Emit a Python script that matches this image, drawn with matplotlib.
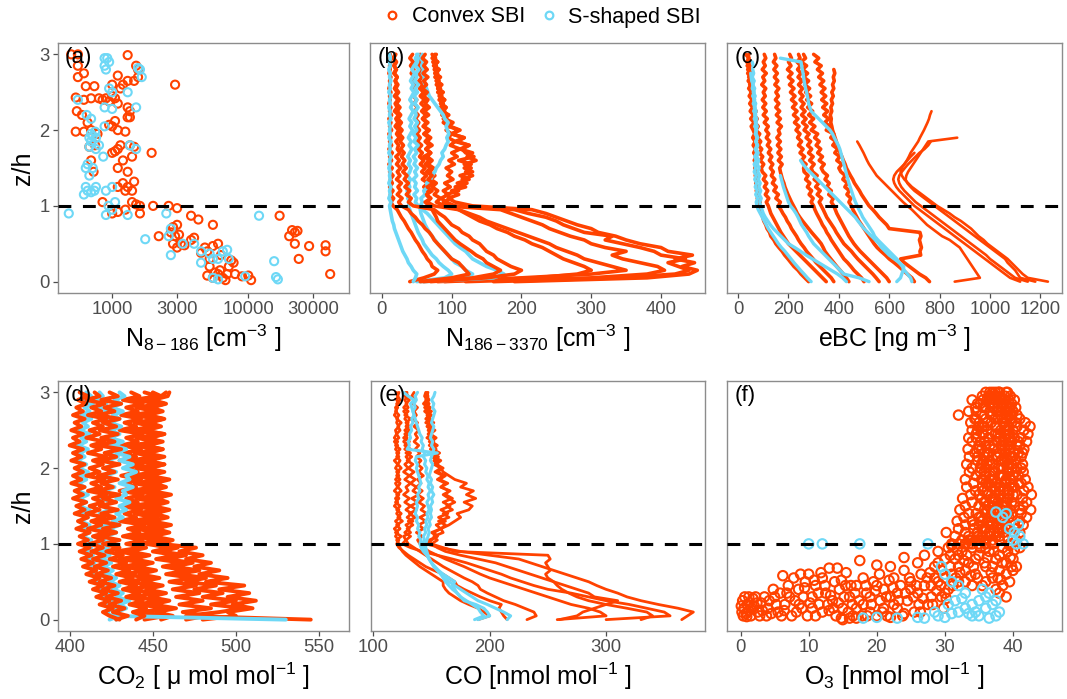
import matplotlib
matplotlib.use('Agg')
import matplotlib.pyplot as plt
from matplotlib.lines import Line2D

plt.rcParams['font.family'] = ['Liberation Sans', 'DejaVu Sans']
plt.rcParams['mathtext.fontset'] = 'custom'
plt.rcParams['mathtext.rm'] = 'Liberation Sans'
plt.rcParams['mathtext.it'] = 'Liberation Sans:italic'
plt.rcParams['mathtext.bf'] = 'Liberation Sans:bold'

RED = '#FF4200'
CYAN = '#6ED8F6'
SERIES = ['Convex SBI', 'S-shaped SBI']

# ---------------- shared height grid (z/h) for profiles ----------------
Z05 = [0.00, 0.05, 0.10, 0.15, 0.20, 0.25, 0.30, 0.35, 0.40, 0.45,
       0.50, 0.55, 0.60, 0.65, 0.70, 0.75, 0.80, 0.85, 0.90, 0.95,
       1.00, 1.05, 1.10, 1.15, 1.20, 1.25, 1.30, 1.35, 1.40, 1.45,
       1.50, 1.55, 1.60, 1.65, 1.70, 1.75, 1.80, 1.85, 1.90, 1.95,
       2.00, 2.05, 2.10, 2.15, 2.20, 2.25, 2.30, 2.35, 2.40, 2.45,
       2.50, 2.55, 2.60, 2.65, 2.70, 2.75, 2.80, 2.85, 2.90, 2.95, 3.00]

# ---------------- (a) N8-186 scatter ----------------
a_conv = [(500, 3.0), (560, 3.0), (1300, 2.99), (560, 2.85), (620, 2.75), (560, 2.7), (1100, 2.72),
          (1200, 2.6), (1300, 2.65), (1450, 2.65), (1550, 2.7), (1550, 2.8), (1500, 2.85), (2900, 2.6),
          (640, 2.58), (740, 2.58), (1000, 2.6), (1150, 2.55), (540, 2.43), (620, 2.4), (700, 2.42),
          (800, 2.42), (850, 2.4), (900, 2.42), (950, 2.38), (1000, 2.45), (1050, 2.42), (1100, 2.35),
          (1300, 2.3), (1350, 2.25), (550, 2.25), (600, 2.2), (1300, 2.17), (1350, 2.17), (1050, 2.12),
          (950, 2.07), (1000, 2.05), (1100, 2.0), (1250, 1.98), (540, 1.98), (620, 1.98), (700, 2.0),
          (780, 1.95), (660, 2.1), (680, 1.78), (750, 1.8), (1000, 1.7), (1050, 1.72), (1100, 1.75),
          (1150, 1.8), (1350, 1.8), (1450, 1.78), (1950, 1.7), (1200, 1.6), (1400, 1.65), (700, 1.6),
          (730, 1.45), (1100, 1.5), (1300, 1.45), (1200, 1.3), (1250, 1.2), (1300, 1.25), (1400, 1.2),
          (1450, 1.32), (1100, 1.25), (850, 1.05), (1400, 1.05), (1500, 1.02), (1600, 1.0), (2000, 1.0),
          (2600, 1.0), (3000, 0.97), (1000, 0.9), (1100, 0.92), (1250, 0.95), (1600, 0.9), (3800, 0.87),
          (4300, 0.82), (5500, 0.75), (2800, 0.72), (3000, 0.75), (2700, 0.65), (2900, 0.6), (3100, 0.62),
          (2200, 0.6), (2800, 0.5), (3000, 0.45), (3200, 0.5), (3400, 0.48), (3800, 0.55), (4000, 0.58),
          (4800, 0.45), (5000, 0.4), (6000, 0.5), (5500, 0.47), (4500, 0.38), (5200, 0.2), (5000, 0.08),
          (5500, 0.05), (6000, 0.1), (6500, 0.05), (7000, 0.1), (7200, 0.2), (7500, 0.28), (7800, 0.25),
          (6800, 0.02), (8000, 0.1), (9000, 0.07), (10000, 0.08), (10500, 0.02), (17000, 0.87),
          (21000, 0.68), (22000, 0.65), (23000, 0.67), (20000, 0.6), (22000, 0.5), (23500, 0.3),
          (28000, 0.47), (37000, 0.48), (37000, 0.4), (40000, 0.1), (5700, 0.12), (6200, 0.15),
          (5200, 0.3), (6300, 0.35)]
a_sshp = [(880, 2.95), (920, 2.95), (950, 2.9), (880, 2.85), (900, 2.8), (1550, 2.82), (1600, 2.8),
          (1650, 2.7), (950, 2.55), (1000, 2.5), (1300, 2.5), (1500, 2.3), (560, 2.4), (880, 2.3),
          (1000, 2.28), (650, 2.2), (700, 2.15), (700, 1.95), (720, 1.92), (750, 1.98), (680, 1.9),
          (760, 1.9), (700, 1.85), (800, 1.8), (680, 1.78), (760, 1.75), (880, 2.05), (1350, 1.8),
          (1500, 1.75), (860, 1.65), (660, 1.55), (640, 1.5), (720, 1.5), (680, 1.4), (640, 1.25),
          (660, 1.2), (700, 1.18), (740, 1.2), (760, 1.25), (620, 1.15), (900, 1.2), (1000, 1.25),
          (1050, 1.05), (940, 1.0), (1000, 0.95), (900, 0.88), (1300, 0.88), (480, 0.9), (1750, 0.56),
          (2500, 0.9), (12000, 0.87), (2700, 0.7), (2600, 0.6), (3300, 0.5), (4000, 0.5), (4500, 0.4),
          (5200, 0.37), (5500, 0.3), (6000, 0.3), (6500, 0.4), (7000, 0.42), (7200, 0.3), (4500, 0.25),
          (5500, 0.05), (6000, 0.03), (9500, 0.07), (15500, 0.27), (16000, 0.06), (16500, 0.03),
          (2700, 0.35)]

# ---------------- (b) N186-3370 profiles (values on Z05) ----------------
b_c1 = [190, 380, 440, 452, 430, 448, 420, 445, 410, 400, 370, 350, 335, 310, 300, 280, 265, 250, 235, 215,
        130, 105, 95, 110, 100, 120, 108, 125, 112, 130, 118, 128, 110, 132, 120, 115, 125, 105, 118, 100,
        112, 98, 95, 88, 96, 85, 92, 84, 90, 82, 88, 80, 86, 78, 84, 76, 82, 75, 80, 74, 78]
b_c2 = [160, 340, 420, 440, 425, 410, 435, 400, 390, 370, 345, 320, 330, 290, 275, 260, 250, 235, 210, 190,
        105, 92, 85, 95, 88, 98, 90, 102, 94, 100, 92, 104, 96, 108, 100, 112, 98, 105, 95, 100,
        92, 96, 88, 93, 86, 90, 84, 88, 82, 86, 80, 84, 78, 82, 76, 80, 75, 78, 73, 77, 72]
b_c3 = [120, 300, 380, 405, 395, 370, 345, 330, 350, 320, 300, 290, 270, 255, 240, 230, 215, 200, 185, 170,
        90, 78, 84, 75, 80, 72, 78, 70, 76, 68, 74, 66, 72, 65, 70, 63, 68, 62, 67, 60,
        66, 59, 64, 58, 63, 57, 62, 56, 61, 55, 60, 54, 59, 53, 58, 52, 57, 51, 56, 50, 55]
b_c4 = [90, 220, 280, 300, 290, 275, 260, 250, 240, 230, 215, 205, 190, 180, 165, 155, 140, 130, 120, 110,
        75, 65, 70, 62, 68, 60, 66, 58, 64, 57, 62, 55, 60, 54, 58, 52, 57, 51, 55, 50,
        54, 49, 53, 48, 52, 47, 51, 46, 50, 45, 49, 44, 48, 43, 47, 42, 46, 41, 45, 40, 44]
b_c5 = [70, 150, 190, 200, 185, 175, 165, 160, 150, 145, 140, 130, 125, 115, 110, 100, 95, 90, 82, 75,
        45, 38, 42, 35, 40, 33, 38, 32, 36, 30, 35, 29, 33, 28, 32, 27, 31, 26, 30, 25,
        29, 24, 28, 23, 27, 22, 26, 21, 25, 20, 24, 20, 23, 19, 22, 18, 21, 17, 20, 16, 19]
b_c6 = [40, 60, 75, 80, 72, 70, 65, 62, 58, 55, 52, 48, 45, 42, 38, 35, 32, 28, 25, 22,
        16, 13, 17, 12, 16, 11, 15, 12, 16, 11, 15, 10, 14, 11, 15, 10, 14, 11, 13, 10,
        14, 11, 13, 10, 14, 11, 13, 10, 12, 11, 13, 10, 12, 11, 13, 10, 12, 11, 13, 10, 12]
b_c7 = [55, 100, 125, 120, 115, 110, 100, 95, 90, 85, 80, 75, 72, 68, 62, 58, 52, 48, 42, 38,
        28, 24, 29, 22, 27, 23, 28, 21, 26, 22, 27, 21, 25, 20, 26, 22, 24, 20, 25, 21,
        24, 19, 23, 20, 24, 18, 22, 19, 23, 18, 22, 18, 21, 19, 22, 17, 20, 18, 21, 17, 20]
b_c8 = [80, 200, 300, 350, 330, 310, 290, 280, 265, 250, 240, 225, 210, 195, 180, 165, 150, 140, 125, 110,
        95, 88, 100, 92, 110, 105, 122, 115, 130, 120, 128, 118, 135, 122, 130, 112, 125, 108, 118, 100,
        110, 96, 102, 90, 95, 88, 92, 85, 90, 83, 87, 80, 85, 78, 83, 76, 82, 74, 80, 72, 76]
b_c9 = [60, 130, 160, 170, 160, 150, 145, 135, 128, 120, 112, 105, 100, 95, 90, 85, 80, 78, 75, 72,
        68, 62, 70, 64, 72, 65, 74, 66, 72, 64, 70, 62, 68, 60, 70, 63, 72, 65, 70, 62,
        68, 60, 66, 59, 67, 61, 68, 62, 66, 60, 65, 58, 64, 60, 66, 59, 65, 60, 64, 58, 62]
b_s1 = [60, 160, 175, 165, 150, 140, 130, 125, 120, 112, 105, 100, 95, 90, 85, 80, 75, 70, 65, 58,
        52, 48, 50, 46, 51, 47, 49, 45, 50, 47, 51, 46, 49, 45, 50, 47, 52, 46, 49, 45,
        50, 47, 51, 46, 49, 48, 52, 47, 50, 46, 51, 48, 52, 47, 50, 49, 53, 48, 51, 52, 50]
b_s2 = [45, 48, 50, 45, 42, 38, 36, 33, 30, 28, 26, 24, 22, 20, 18, 17, 15, 14, 13, 12,
        11, 13, 10, 12, 11, 13, 10, 12, 11, 12, 10, 12, 11, 13, 10, 12, 11, 13, 10, 12,
        11, 12, 10, 13, 11, 12, 10, 12, 11, 13, 10, 12, 11, 13, 11, 12, 10, 12, 11, 12, 11]
b_s3 = [55, 110, 130, 120, 115, 105, 100, 95, 90, 85, 80, 76, 72, 68, 65, 62, 60, 58, 56, 55,
        55, 58, 56, 62, 60, 66, 64, 70, 72, 76, 78, 82, 84, 88, 86, 90, 92, 95, 93, 96,
        94, 92, 95, 90, 88, 84, 80, 76, 72, 68, 66, 64, 62, 60, 61, 58, 60, 57, 59, 56, 58]
b_s4 = [50, 90, 100, 95, 88, 82, 78, 72, 68, 64, 60, 58, 55, 52, 50, 48, 46, 44, 42, 40,
        38, 40, 37, 39, 36, 40, 38, 41, 37, 40, 42, 38, 41, 37, 40, 43, 39, 42, 38, 41,
        44, 40, 43, 39, 42, 45, 41, 44, 40, 43, 46, 42, 45, 41, 44, 47, 43, 46, 50, 48, 52]

# ---------------- (c) eBC profiles (values on Z05) ----------------
c_c1 = [1230, 1150, 1130, 1115, 1100, 1085, 1070, 1050, 1030, 1010, 990, 975, 955, 940, 925, 905, 885, 860,
        840, 815, 790, 770, 750, 730, 710, 690, 675, 660, 650, 645, 650, 660, 670, 678, 685, 695, 705, 715,
        722, 730, 738, 745, 752, 758, 762, 768]
c_c2 = [1180, 1120, 1110, 1100, 1085, 1070, 1060, 1040, 1020, 1000, 980, 960, 940, 920, 900, 880, 860, 840,
        820, 800, 780, 760, 740, 720, 700, 685, 672, 665, 668, 675, 685, 695, 705, 715, 725, 735, 745, 755, 870]
c_c3 = [1150, 1100, 1080, 1060, 1040, 1020, 1000, 985, 965, 945, 925, 905, 885, 865, 845, 825, 805, 785,
        765, 745, 725, 705, 690, 675, 660, 648, 640, 636, 640, 650, 662, 675, 690, 705, 720, 740, 755, 765]
c_c4 = [1120, 1080, 1060, 1040, 1020, 1000, 980, 960, 940, 920, 900, 880, 860, 840, 820, 800, 780, 760,
        740, 720, 700, 685, 670, 655, 640, 628, 620, 616, 620, 630, 645, 660, 672, 685, 700]
c_c5 = [860, 960, 950, 940, 930, 920, 910, 900, 890, 880, 860, 840, 810, 790, 770, 750, 735, 720,
        705, 690, 672, 655, 640, 625, 610, 595, 580, 565, 550, 540, 530, 520, 512, 505, 498, 490, 482, 473]
c_r1 = [280, 265, 250, 238, 222, 210, 198, 185, 175, 162, 150, 142, 130, 125, 115, 110, 102, 98, 92, 86,
        80, 88, 76, 84, 72, 80, 70, 78, 68, 75, 66, 74, 64, 72, 62, 70, 60, 68, 58, 66,
        60, 52, 64, 50, 62, 48, 58, 46, 56, 44, 54, 42, 52, 40, 50, 38, 48, 36, 46, 40, 42]
c_r2 = [380, 370, 355, 340, 325, 310, 298, 285, 272, 262, 250, 240, 232, 222, 212, 205, 195, 188, 178, 170,
        160, 168, 150, 160, 142, 152, 136, 146, 132, 140, 128, 138, 124, 134, 120, 130, 116, 126, 112, 122,
        110, 120, 104, 116, 100, 112, 98, 110, 96, 108, 100, 110, 94, 106, 98, 112, 96, 108, 100, 110, 104]
c_r3 = [500, 490, 475, 460, 448, 435, 420, 410, 400, 390, 380, 370, 362, 352, 345, 335, 328, 320, 312, 305,
        300, 290, 298, 282, 292, 275, 285, 268, 278, 262, 260, 270, 252, 264, 246, 258, 240, 252, 236, 246,
        230, 242, 224, 238, 220, 234, 216, 230, 212, 226, 208, 222, 204, 218, 200, 214, 196, 210, 200, 212, 205]
c_r4 = [600, 590, 575, 560, 545, 530, 515, 500, 485, 472, 460, 450, 440, 432, 424, 416, 408, 400, 392, 386,
        380, 370, 378, 360, 370, 352, 362, 345, 355, 338, 330, 342, 322, 335, 316, 328, 310, 322, 304, 316,
        290, 305, 284, 300, 280, 296, 276, 292, 272, 288, 268, 284, 264, 280, 260, 276, 256, 272, 250, 268, 260]
c_r5 = [700, 690, 672, 655, 638, 620, 600, 585, 568, 552, 540, 530, 520, 510, 500, 490, 480, 472, 464, 456,
        450, 440, 448, 432, 442, 424, 434, 416, 426, 408, 400, 412, 392, 404, 384, 396, 376, 388, 368, 380,
        350, 365, 344, 360, 340, 356, 336, 352, 332, 348, 330, 345, 325, 340, 320, 335, 315, 330, 305, 320, 300]
c_r6 = [760, 745, 720, 700, 680, 660, 645, 725, 722, 728, 724, 720, 726, 722, 600, 590, 575, 560, 548, 535,
        520, 510, 500, 490, 482, 472, 462, 455, 446, 438, 430, 425, 418, 412, 405, 400, 394, 390, 385, 380,
        375, 372, 368, 370, 366, 372, 368, 375, 370, 378, 372, 380, 375, 382, 378, 384, 380]
c_r7 = [440, 430, 418, 405, 392, 380, 368, 356, 345, 338, 330, 318, 305, 292, 280, 268, 256, 245, 235, 228,
        220, 212, 205, 198, 192, 186, 182, 176, 172, 168, 165, 175, 160, 172, 158, 170, 156, 168, 154, 166,
        160, 172, 155, 168, 152, 165, 150, 162, 148, 160, 150, 162, 146, 158, 144, 156, 142, 154, 140, 150, 145]
c_r8 = [560, 548, 535, 520, 505, 490, 475, 462, 450, 435, 420, 410, 400, 390, 382, 372, 362, 352, 345, 338,
        330, 322, 332, 314, 326, 308, 320, 302, 314, 296, 290, 302, 284, 298, 280, 292, 276, 288, 270, 282,
        262, 274, 256, 270, 252, 266, 250, 262, 246, 258, 244, 256, 240, 254, 238, 250, 236, 248, 234, 246, 240]
c_r9 = [350, 335, 320, 305, 290, 275, 260, 245, 230, 215, 200, 190, 180, 170, 162, 154, 146, 138, 130, 125,
        120, 112, 122, 108, 118, 104, 114, 100, 110, 96, 92, 102, 88, 98, 84, 94, 80, 90, 76, 86,
        70, 80, 66, 76, 62, 72, 58, 68, 54, 64, 50, 60, 46, 56, 42, 52, 38, 48, 34, 44, 30]
c_s1 = [290, 275, 262, 248, 235, 222, 210, 198, 186, 172, 160, 150, 140, 130, 120, 112, 104, 96, 88, 80,
        75, 72, 78, 70, 76, 68, 74, 66, 72, 64, 70, 64, 72, 66, 74, 68, 76, 70, 78, 72,
        70, 76, 68, 74, 66, 72, 64, 70, 62, 68, 60, 66, 58, 64, 56, 62, 58, 60, 56]
c_s2 = [690, 685, 672, 660, 652, 640, 630, 615, 600, 585, 570, 555, 542, 535, 525, 515, 505, 495, 488, 480,
        473, 466, 460, 455, 450, 445, 440, 436, 432, 428, 424, 420, 416, 412, 408, 404, 398, 390, 382, 375,
        365, 350, 335, 320, 305, 290, 285, 280, 278, 275, 272, 268, 265, 262, 260, 258, 255, 252, 250, 168]
c_s3 = [630, 645, 650, 655, 658, 640, 620, 600, 585, 570, 560, 545, 530, 515, 500, 488, 476, 465, 450, 435,
        420, 405, 390, 375, 360, 345, 330, 315, 300, 285, 270, 258, 248]
c_s4 = [430, 415, 395, 370, 345, 320, 295, 270, 248, 225, 200, 185, 170, 155, 140, 128, 118, 108, 100, 95,
        90, 86, 92, 84, 90, 82, 88, 80, 86, 78, 84, 76, 82, 74, 80, 72, 78, 70, 76, 68,
        74, 66, 72, 64, 70, 62, 68, 60, 66, 58, 64, 56, 60, 54, 52, 50]
c_s5 = [520, 480, 420, 405, 390, 375, 360, 345, 330, 315, 300, 290, 280, 272, 262, 252, 245, 238, 230, 220,
        208, 200, 195, 190, 185, 180, 176, 172, 168]

# ---------------- (d) CO2 profiles (values on Z05) ----------------
d_r1 = [430, 424, 420, 426, 418, 424, 416, 422, 414, 420, 412, 418, 410, 416, 408, 414, 407, 413, 406, 412,
        405, 411, 406, 412, 404, 410, 405, 411, 403, 409, 404, 410, 402, 408, 403, 409, 401, 407, 402, 408,
        403, 409, 401, 407, 402, 408, 400, 406, 402, 408, 401, 407, 403, 409, 402, 408, 404, 410, 405, 411, 406]
d_r2 = [440, 445, 438, 446, 436, 444, 434, 442, 432, 440, 430, 438, 428, 436, 426, 434, 424, 432, 422, 430,
        420, 430, 418, 428, 420, 430, 417, 427, 419, 429, 418, 428, 420, 430, 416, 426, 419, 429, 417, 427,
        420, 430, 418, 428, 421, 431, 417, 427, 419, 429, 418, 428, 420, 430, 417, 427, 421, 431, 419, 429, 424]
d_r3 = [455, 462, 452, 464, 450, 460, 448, 458, 446, 456, 444, 454, 442, 452, 440, 450, 438, 448, 436, 446,
        434, 444, 432, 442, 435, 445, 430, 440, 433, 443, 431, 441, 434, 444, 430, 440, 433, 443, 431, 441,
        434, 444, 430, 440, 433, 443, 431, 441, 434, 444, 430, 440, 433, 443, 431, 441, 434, 444, 432, 442, 437]
d_r4 = [470, 482, 468, 485, 466, 480, 464, 478, 462, 476, 460, 474, 458, 470, 456, 468, 452, 464, 450, 460,
        446, 456, 444, 454, 447, 457, 443, 453, 446, 456, 444, 454, 447, 457, 443, 453, 446, 456, 444, 454,
        447, 457, 443, 453, 446, 456, 444, 454, 447, 457, 443, 453, 446, 456, 444, 454, 447, 457, 445, 455, 450]
d_r5 = [480, 500, 495, 510, 498, 512, 495, 508, 490, 505, 482, 495, 478, 490, 475, 485, 470, 480, 466, 476,
        455, 462, 450, 460, 452, 461, 449, 459, 451, 460, 450, 459, 452, 461, 449, 458, 451, 460, 448, 457,
        446, 455, 448, 457, 445, 454, 447, 456, 444, 453, 446, 455, 448, 457, 447, 456, 449, 458, 450, 459, 460]
d_r6 = [445, 458, 442, 460, 440, 455, 438, 452, 436, 450, 435, 448, 433, 446, 432, 445, 430, 444, 428, 442,
        440, 455, 437, 452, 440, 456, 436, 451, 439, 454, 437, 452, 440, 455, 436, 451, 439, 454, 437, 452,
        440, 455, 436, 451, 439, 454, 437, 452, 440, 455, 436, 451, 439, 454, 437, 452, 440, 455, 438, 453, 445]
d_r7 = [428, 435, 426, 433, 424, 431, 422, 429, 420, 427, 418, 425, 416, 423, 415, 422, 414, 421, 413, 420,
        412, 420, 414, 422, 411, 419, 413, 421, 410, 418, 412, 420, 414, 422, 411, 419, 413, 421, 410, 418,
        412, 420, 414, 422, 411, 419, 413, 421, 410, 418, 412, 420, 414, 422, 411, 419, 413, 421, 410, 418, 415]
d_r8 = [545, 470, 490, 505, 485, 500, 480, 492, 475, 488, 470, 482, 465, 478, 462, 474, 458, 470, 455, 465,
        450, 458, 446, 455, 448, 457, 444, 453, 447, 456, 445, 454, 448, 457, 444, 453, 447, 456, 445, 454,
        448, 457, 444, 453, 447, 456, 445, 454, 448, 457, 444, 453, 447, 456, 445, 454, 448, 457, 446, 455, 458]
d_s1 = [530, 425, 422, 426, 420, 424, 418, 422, 416, 420, 414, 418, 412, 416, 411, 415, 410, 414, 409, 413,
        408, 413, 407, 412, 408, 412, 406, 411, 407, 412, 405, 410, 406, 411, 404, 409, 405, 410, 406, 411,
        405, 410, 404, 409, 406, 411, 405, 410, 407, 412, 406, 411, 408, 413, 407, 412, 409, 414, 408, 413, 410]
d_s2 = [428, 432, 426, 430, 424, 428, 422, 426, 420, 425, 419, 424, 418, 423, 417, 422, 416, 421, 415, 420,
        416, 421, 418, 424, 417, 423, 419, 425, 418, 424, 420, 426, 419, 425, 421, 427, 420, 426, 422, 428,
        421, 427, 423, 429, 422, 428, 424, 430, 423, 429, 425, 431, 424, 430, 426, 432, 425, 431, 427, 433, 430]
d_s3 = [424, 430, 428, 434, 430, 436, 428, 432, 426, 430, 424, 428, 422, 426, 420, 425, 419, 424, 418, 423,
        420, 426, 422, 428, 424, 430, 426, 432, 428, 434, 430, 436, 428, 434, 432, 438, 430, 436, 434, 440,
        432, 438, 430, 436, 428, 434, 426, 432, 424, 430, 422, 428, 420, 426, 418, 424, 416, 422, 414, 420, 418]

# ---------------- (e) CO profiles (values on Z05) ----------------
e_r1 = [190, 200, 195, 190, 182, 175, 170, 165, 162, 160, 160, 155, 150, 145, 140, 136, 132, 128, 125, 123,
        122, 120, 124, 119, 123, 120, 125, 121, 124, 120, 123, 119, 122, 120, 124, 121, 123, 119, 122, 120,
        124, 121, 123, 120, 122, 119, 121, 118, 122, 120, 123, 121, 124, 120, 122, 119, 121, 120, 123, 121, 122]
e_r2 = [232, 240, 238, 230, 222, 212, 205, 198, 192, 190, 185, 178, 172, 166, 160, 155, 150, 145, 140, 135,
        130, 128, 132, 127, 131, 128, 134, 129, 133, 128, 132, 127, 131, 126, 130, 128, 132, 127, 131, 126,
        130, 127, 131, 128, 132, 127, 130, 126, 129, 127, 131, 128, 130, 127, 129, 126, 130, 128, 131, 127, 129]
e_r3 = [258, 300, 295, 285, 270, 260, 250, 240, 230, 220, 210, 200, 192, 185, 178, 170, 162, 155, 148, 143,
        140, 138, 142, 137, 143, 139, 145, 140, 146, 141, 144, 139, 143, 138, 142, 137, 141, 138, 143, 139,
        142, 138, 141, 137, 140, 136, 139, 135, 138, 136, 139, 135, 138, 134, 137, 135, 138, 134, 136, 133, 135]
e_r4 = [330, 340, 335, 318, 300, 285, 275, 268, 262, 258, 255, 245, 235, 225, 215, 205, 190, 175, 162, 155,
        150, 155, 152, 160, 158, 165, 170, 175, 172, 182, 185, 178, 188, 180, 186, 175, 180, 170, 165, 160,
        158, 155, 152, 156, 150, 154, 148, 152, 146, 150, 147, 151, 145, 149, 146, 150, 144, 148, 145, 147, 146]
e_r5 = [365, 370, 375, 362, 345, 330, 318, 310, 300, 292, 285, 275, 265, 255, 245, 235, 225, 200, 175, 158,
        145, 150, 155, 152, 158, 162, 156, 165, 160, 168, 163, 170, 165, 160, 166, 158, 164, 157, 162, 155,
        160, 154, 158, 152, 157, 151, 155, 150, 154, 149, 153, 148, 152, 147, 150, 146, 149, 145, 148, 146, 147]
e_r6 = [300, 355, 350, 335, 320, 300, 285, 270, 250, 238, 228, 218, 210, 200, 190, 180, 168, 155, 142, 132,
        125, 128, 126, 132, 129, 134, 130, 136, 131, 137, 132, 138, 133, 139, 134, 137, 132, 136, 131, 135,
        130, 134, 129, 133, 128, 132, 127, 131, 126, 130, 127, 131, 128, 132, 127, 130, 126, 129, 127, 130, 128]
e_r7 = [215, 212, 210, 208, 210, 200, 192, 185, 178, 172, 170, 165, 160, 152, 145, 140, 135, 130, 126, 122,
        120, 122, 119, 121, 118, 122, 119, 123, 120, 122, 118, 121, 119, 122, 118, 121, 119, 123, 120, 122,
        119, 121, 118, 122, 120, 123, 119, 121, 118, 120, 119, 122, 120, 121, 118, 120, 119, 122, 120, 121, 120]
e_r8 = [260, 275, 280, 290, 300, 310, 290, 285, 275, 265, 255, 250, 248, 252, 250, 248, 252, 250, 170, 160,
        150, 148, 155, 150, 158, 154, 162, 156, 164, 158, 166, 160, 168, 162, 165, 158, 162, 155, 160, 153,
        158, 152, 156, 150, 154, 149, 152, 148, 151, 147, 150, 146, 149, 145, 148, 144, 147, 143, 146, 144, 145]
e_s1 = [215, 218, 212, 205, 198, 190, 185, 180, 175, 170, 165, 162, 158, 155, 152, 150, 148, 146, 144, 143,
        142, 144, 143, 145, 144, 146, 145, 147, 146, 148, 147, 146, 148, 147, 149, 147, 148, 146, 147, 145,
        146, 144, 145, 143, 144, 142, 143, 141, 142, 140, 139, 138, 137, 136, 135, 134, 133, 132, 135, 130, 126]
e_s2 = [187, 195, 192, 190, 185, 180, 175, 172, 170, 168, 170, 165, 160, 156, 153, 150, 148, 147, 146, 145,
        145, 146, 147, 148, 147, 149, 148, 150, 149, 150, 149, 151, 150, 152, 150, 151, 149, 150, 148, 149,
        150, 151, 149, 150, 151, 152, 150, 151, 149, 150, 151, 152, 150, 151, 152, 153, 151, 152, 150, 152, 153]
e_s3 = [190, 200, 198, 195, 188, 178, 175, 172, 168, 165, 162, 160, 158, 155, 152, 150, 148, 146, 143, 141,
        140, 141, 139, 140, 138, 139, 137, 138, 136, 137, 138, 137, 139, 138, 140, 139, 141, 140, 139, 138,
        137, 138, 136, 137, 155, 129, 131, 130, 132, 131, 133, 132, 134, 133, 135, 134, 136, 135, 137, 136, 138]

# ---------------- (f) O3 scatter ----------------
ZF = Z05[20:]   # z/h levels 1.0 ... 3.0 of the upper-layer samples
f_up1 = [31.0, 32.5, 31.5, 30.2, 32.0, 33.0, 31.8, 32.8, 33.5, 32.2, 33.0, 34.0, 32.6, 33.8, 34.5, 33.2, 34.2,
         33.0, 34.6, 33.6, 34.0, 33.2, 34.8, 33.6, 34.4, 33.4, 35.0, 34.0, 33.5, 34.6, 34.0, 35.0, 33.8, 34.6,
         32.0, 33.5, 34.5, 35.2, 34.0, 35.5, 36.0]
f_up2 = [33.0, 34.0, 33.5, 34.8, 34.2, 35.0, 34.0, 35.3, 34.6, 35.8, 35.0, 36.0, 35.4, 35.0, 36.2, 35.5, 36.4,
         35.6, 36.0, 35.2, 36.0, 35.4, 36.5, 35.8, 36.2, 35.4, 36.6, 35.8, 36.4, 35.6, 36.2, 35.5, 36.8, 36.0,
         35.4, 36.6, 36.0, 37.0, 36.2, 37.2, 36.6]
f_up3 = [35.0, 36.0, 35.5, 36.5, 36.0, 37.0, 36.4, 37.2, 36.8, 37.5, 37.0, 37.8, 37.2, 38.0, 37.4, 38.2, 37.6,
         37.0, 38.0, 37.4, 37.8, 37.0, 38.2, 37.5, 38.0, 37.2, 38.4, 37.6, 38.0, 37.4, 38.2, 37.6, 38.6, 37.8,
         38.2, 37.6, 38.4, 37.8, 38.2, 37.5, 38.0]
f_up4 = [37.0, 38.0, 37.5, 38.6, 38.0, 39.0, 38.4, 39.4, 38.8, 39.6, 39.0, 39.8, 39.2, 40.0, 39.4, 40.2, 39.6,
         39.0, 40.0, 39.4, 39.8, 39.2, 40.4, 39.6, 40.2, 39.4, 40.6, 39.8, 40.2, 39.5, 40.0, 39.4, 40.4, 39.6,
         39.8, 39.2, 39.6, 39.0, 39.4, 38.8, 39.2]
f_up5 = [39.5, 40.5, 40.0, 41.0, 40.5, 41.5, 41.0, 42.0, 41.2, 42.6, 41.5, 42.0, 41.4, 42.7, 41.6, 42.2, 41.2,
         41.8, 40.8, 41.5, 40.6, 41.4, 40.4, 41.2, 40.8, 41.6, 41.0, 42.0, 41.2, 42.2, 41.6, 42.5, 41.8, 41.0,
         40.6, 40.0, 40.4, 39.8, 40.2, 39.6, 39.0]
f_up6 = [33.5, 34.5, 35.5, 34.8, 35.8, 36.5, 35.5, 36.8, 36.0, 37.2, 36.4, 35.8, 37.0, 36.2, 35.6, 36.8, 36.0,
         35.4, 36.6, 35.8, 35.2, 36.2, 35.6, 34.8, 35.8, 35.0, 36.0, 35.2, 34.6, 35.6, 34.8, 35.8, 35.0, 34.4,
         35.4, 34.6, 35.6, 34.8, 35.6, 36.4, 37.4]
f_up7 = [36.0, 37.0, 38.0, 37.2, 38.4, 37.6, 38.8, 38.0, 39.2, 38.4, 38.6, 39.0, 38.2, 39.4, 38.6, 39.8, 38.8,
         39.6, 38.4, 39.2, 38.6, 39.4, 38.8, 39.8, 39.0, 38.4, 39.2, 38.6, 39.6, 38.8, 39.4, 38.8, 39.8, 39.0,
         39.6, 38.8, 39.4, 38.6, 38.0, 37.6, 37.0]
f_up8 = [32.0, 33.5, 34.8, 33.0, 35.5, 34.2, 36.8, 35.0, 37.6, 36.2, 38.4, 37.0, 39.2, 36.4, 38.0, 37.4, 39.0,
         36.8, 38.6, 37.2, 38.2, 36.6, 39.2, 37.8, 36.4, 38.8, 37.2, 39.6, 38.0, 36.8, 39.0, 37.4, 36.2, 38.4,
         37.0, 39.2, 37.8, 36.6, 38.8, 37.4, 38.0]
f_up9 = [34.0, 35.2, 36.6, 37.8, 39.0, 40.2, 38.6, 37.2, 39.8, 41.0, 40.2, 38.8, 37.4, 40.6, 39.2, 38.0, 40.8,
         39.6, 38.2, 40.4, 41.2, 39.8, 38.4, 40.0, 41.4, 39.6, 38.2, 40.8, 39.4, 37.8, 39.2, 40.6, 38.8, 37.4,
         39.0, 38.2, 37.0, 38.6, 37.2, 36.6, 37.8]
f_conv_low = [(0.2, 0.1), (0.5, 0.15), (0.8, 0.08), (1.0, 0.2), (1.2, 0.12), (0.3, 0.25), (1.5, 0.05),
              (2.0, 0.18), (0.6, 0.3), (1.8, 0.28), (2.5, 0.1), (3.0, 0.22), (2.8, 0.05), (0.9, 0.04),
              (0.4, 0.05), (1.6, 0.15), (0.1, 0.18), (2.2, 0.3),
              (4, 0.15), (5, 0.3), (5.5, 0.1), (6.5, 0.2), (7, 0.45), (6.8, 0.35), (7.5, 0.05), (8, 0.25),
              (8.5, 0.4), (9, 0.15), (9.5, 0.5), (10, 0.6), (10.5, 0.3), (9.8, 0.05), (3.5, 0.3), (6.2, 0.58),
              (7.8, 0.55), (4.5, 0.08), (8.8, 0.6), (5.2, 0.2), (6, 0.05), (9.2, 0.3), (3.8, 0.05),
              (11, 0.45), (11.5, 0.2), (12, 0.1), (12.5, 0.35), (13, 0.68), (13.5, 0.25), (14, 0.05),
              (14.5, 0.4), (15, 0.15), (15.5, 0.62), (16, 0.3), (16.5, 0.05), (17, 0.45), (17.5, 0.78),
              (18, 0.2), (18.5, 0.35), (19, 0.1), (19.5, 0.5), (20, 0.72), (12, 0.55), (14.8, 0.02),
              (16, 0.02), (13, 0.12), (18, 0.55), (11, 0.05), (13.8, 0.5), (15.2, 0.3), (17, 0.15),
              (19, 0.3), (14.2, 0.68), (16.2, 0.45), (12.8, 0.2), (15.8, 0.1), (18.6, 0.05), (10.5, 0.15),
              (20.5, 0.25), (21, 0.4), (21.5, 0.05), (22, 0.3), (22.5, 0.55), (23, 0.15), (23.5, 0.45),
              (24, 0.82), (24.5, 0.25), (25, 0.5), (25.5, 0.1), (26, 0.35), (26.5, 0.6), (27, 0.85),
              (27.5, 0.2), (28, 0.45), (28.5, 0.7), (29, 0.9), (29.5, 0.3), (30, 0.55), (30.5, 0.95),
              (24, 0.65), (22, 0.7), (26, 0.75), (28, 0.3), (21, 0.15), (23, 0.35), (25, 0.4), (27, 0.45),
              (29, 0.5), (26.2, 0.2), (22.5, 0.2), (20, 0.45), (29, 0.75), (30, 0.35),
              (31, 0.6), (31.5, 0.8), (32, 0.7), (32.5, 0.9), (33, 0.5), (33.5, 0.75), (34, 0.95),
              (34.5, 0.6), (35, 0.85), (35.5, 0.45), (36, 0.7), (36.5, 0.9), (37, 0.55), (37.5, 0.8),
              (38, 0.65), (38.5, 0.95), (39, 0.75), (39.5, 0.5), (38, 0.35), (30.5, 0.4), (39, 0.3),
              (40, 0.8), (41, 0.95), (39.5, 0.98), (37, 1.0), (35, 1.05), (33, 1.0), (31, 0.98), (30, 0.8),
              (29.5, 0.65), (28.5, 0.55), (34, 0.45), (38.5, 0.45), (32, 0.5), (33, 0.65), (34.5, 0.8),
              (36, 0.5), (37, 0.7), (38, 0.85), (39, 0.6), (40, 0.65), (37.5, 0.4), (37.8, 0.55),
              (40.5, 0.7), (36, 0.95), (32, 0.85), (30.8, 0.7), (38.2, 0.53), (39.6, 0.82),
              (15, 0.0), (17, 0.02), (20, 0.05), (22, 0.03), (24, 0.08)]
f_conv_low2 = [(1.2, 0.3), (2.4, 0.22), (3.2, 0.12), (4.2, 0.25), (4.8, 0.4), (5.8, 0.35), (6.4, 0.12),
               (7.2, 0.3), (8.2, 0.1), (8.6, 0.2), (9.4, 0.42), (10.2, 0.22), (10.8, 0.52), (11.4, 0.35),
               (11.8, 0.62), (12.4, 0.45), (13.2, 0.32), (13.6, 0.15), (14.4, 0.22), (14.8, 0.52),
               (15.4, 0.45), (16.4, 0.2), (16.8, 0.35), (17.4, 0.25), (17.8, 0.05), (18.4, 0.45),
               (19.2, 0.2), (19.8, 0.38), (20.4, 0.6), (20.8, 0.1), (21.4, 0.3), (21.8, 0.52), (22.4, 0.42),
               (23.2, 0.25), (23.8, 0.05), (24.2, 0.35), (24.8, 0.55), (25.4, 0.3), (25.8, 0.45),
               (26.4, 0.1), (26.8, 0.28), (27.4, 0.55), (27.8, 0.62), (28.2, 0.2), (28.8, 0.38),
               (29.4, 0.45), (29.8, 0.15), (30.2, 0.28), (31.2, 0.45), (32.2, 0.62), (33.2, 0.85),
               (34.2, 0.7), (35.2, 0.95), (36.2, 0.82), (37.2, 0.9), (38.4, 0.75), (39.2, 0.9),
               (40.2, 0.92), (39.8, 0.7), (36.8, 0.62), (35.8, 0.75), (34.8, 0.55), (33.8, 0.58),
               (32.8, 0.78), (31.8, 0.92), (30.8, 0.85), (31.6, 0.55)]
f_sshp = [(10, 1.0), (12, 1.0), (17.5, 1.0), (27.5, 1.0), (40.5, 1.0), (41.5, 1.0), (40, 1.05), (39.5, 1.2),
          (38.5, 1.35), (37.5, 1.42), (41, 1.1), (40.8, 1.25), (39, 1.4), (40.2, 1.15),
          (29, 0.05), (30, 0.03), (31, 0.08), (32, 0.1), (33, 0.15), (34, 0.2), (35, 0.25), (36, 0.3),
          (34.5, 0.1), (36, 0.15), (37, 0.2), (35.5, 0.4), (33, 0.35), (32, 0.45), (31, 0.5), (30, 0.6),
          (29.5, 0.7), (35, 0.05), (37.5, 0.05), (38, 0.1), (36.5, 0.02), (18, 0.02), (20, 0.03),
          (23, 0.02), (26, 0.03), (27, 0.02), (28.5, 0.1), (30.5, 0.2), (32.5, 0.28), (34, 0.05),
          (36.5, 0.35), (37.5, 0.25), (33.5, 0.08), (31.5, 0.25)]

# ---------------- figure layout ----------------
W, H = 1067, 699
fig = plt.figure(figsize=(W / 100, H / 100), dpi=100)


def box(l, r, t, b):
    return [l / W, 1 - b / H, (r - l) / W, (b - t) / H]


ax_a = fig.add_axes(box(58, 349, 43, 293))
ax_b = fig.add_axes(box(370, 705, 43, 293))
ax_c = fig.add_axes(box(727, 1062, 43, 293))
ax_d = fig.add_axes(box(58, 349, 381, 631))
ax_e = fig.add_axes(box(371, 705, 381, 631))
ax_f = fig.add_axes(box(727, 1062, 381, 631))


def style(ax, label, xlabel, show_y):
    for s in ax.spines.values():
        s.set_color('#8c8c8c')
        s.set_linewidth(1.0)
    ax.tick_params(axis='both', which='major', labelsize=13.3, labelcolor='#4D4D4D',
                   color='#4D4D4D', length=3.5, width=0.9, pad=2.5)
    ax.tick_params(axis='both', which='minor', length=0)
    ax.set_ylim(-0.15, 3.15)
    if show_y:
        ax.set_yticks([0, 1, 2, 3])
        ax.set_ylabel('z/h', fontsize=18, labelpad=3)
    else:
        ax.set_yticks([])
    ax.set_xlabel(xlabel, fontsize=18, labelpad=3)
    ax.axhline(1.0, color='black', lw=2.2, dashes=(4.2, 3.8), zorder=20)
    ax.text(0.022, 0.982, label, transform=ax.transAxes, ha='left', va='top',
            fontsize=16, color='black', zorder=30)


def lines(ax, profiles, color, lw):
    for xs in profiles:
        ax.plot(xs, Z05[:len(xs)], color=color, lw=lw, solid_joinstyle='round',
                solid_capstyle='round')


def scatter(ax, pts, color, s=34, lw=1.5):
    xs = [p[0] for p in pts]
    zs = [p[1] for p in pts]
    ax.scatter(xs, zs, s=s, facecolors='none', edgecolors=color, linewidths=lw)


# (a)
scatter(ax_a, a_conv, RED)
scatter(ax_a, a_sshp, CYAN)
ax_a.set_xscale('log')
ax_a.set_xlim(400, 55000)
ax_a.set_xticks([1000, 3000, 10000, 30000])
ax_a.set_xticklabels(['1000', '3000', '10000', '30000'])
ax_a.xaxis.set_minor_locator(matplotlib.ticker.NullLocator())
style(ax_a, '(a)', r'N$_{\mathrm{8-186}}$ [cm$^{-3}$ ]', True)

# (b)
lines(ax_b, [b_c1, b_c2, b_c3, b_c4, b_c8], RED, 2.6)
lines(ax_b, [b_s1, b_s3, b_s4], CYAN, 2.6)
lines(ax_b, [b_c5, b_c6, b_c7, b_c9], RED, 2.6)
lines(ax_b, [b_s2], CYAN, 2.6)
ax_b.set_xlim(-17, 463)
ax_b.set_xticks([0, 100, 200, 300, 400])
style(ax_b, '(b)', r'N$_{\mathrm{186-3370}}$ [cm$^{-3}$ ]', False)

# (c)
lines(ax_c, [c_c1, c_c2, c_c3, c_c4, c_c5], RED, 1.9)
lines(ax_c, [c_r1, c_r2, c_r3, c_r4, c_r5, c_r6, c_r7, c_r8, c_r9], RED, 2.6)
lines(ax_c, [c_s1, c_s2, c_s3, c_s4, c_s5], CYAN, 2.4)
ax_c.set_xlim(-44, 1286)
ax_c.set_xticks([0, 200, 400, 600, 800, 1000, 1200])
style(ax_c, '(c)', r'eBC [ng m$^{-3}$ ]', False)

# (d)
lines(ax_d, [d_r3, d_r4, d_r5, d_r6, d_r8], RED, 2.8)
lines(ax_d, [d_s1, d_s2, d_s3], CYAN, 2.8)
lines(ax_d, [d_r1, d_r2, d_r7], RED, 2.8)
ax_d.set_xlim(393, 568)
ax_d.set_xticks([400, 450, 500, 550])
style(ax_d, '(d)', r'CO$_2$ [ $\mathrm{\mu}$ mol mol$^{-1}$ ]', True)

# (e)
lines(ax_e, [e_r1, e_r2, e_r3, e_r4, e_r5, e_r6, e_r7, e_r8], RED, 2.0)
lines(ax_e, [e_s1, e_s2, e_s3], CYAN, 2.2)
ax_e.set_xlim(98, 385)
ax_e.set_xticks([100, 200, 300])
style(ax_e, '(e)', r'CO [nmol mol$^{-1}$ ]', False)

# (f)
f_conv_up = []
for prof in [f_up1, f_up2, f_up3, f_up4, f_up5, f_up6, f_up7, f_up8, f_up9]:
    f_conv_up += list(zip(prof, ZF))
scatter(ax_f, f_conv_up + f_conv_low + f_conv_low2, RED, s=46)
scatter(ax_f, f_sshp, CYAN, s=46)
ax_f.set_xlim(-2, 47.2)
ax_f.set_xticks([0, 10, 20, 30, 40])
style(ax_f, '(f)', r'O$_3$ [nmol mol$^{-1}$ ]', False)

# legend
handles = [Line2D([], [], marker='o', ls='none', mfc='none', mec=RED, mew=1.6, ms=5.5),
           Line2D([], [], marker='o', ls='none', mfc='none', mec=CYAN, mew=1.6, ms=5.5)]
fig.legend(handles, SERIES, loc='center', bbox_to_anchor=(541 / W, 1 - 17 / H), ncol=2,
           frameon=False, fontsize=15.5, handletextpad=0.4, columnspacing=0.6, handlelength=1.0,
           borderaxespad=0)

fig.savefig('out.png', dpi=100)
